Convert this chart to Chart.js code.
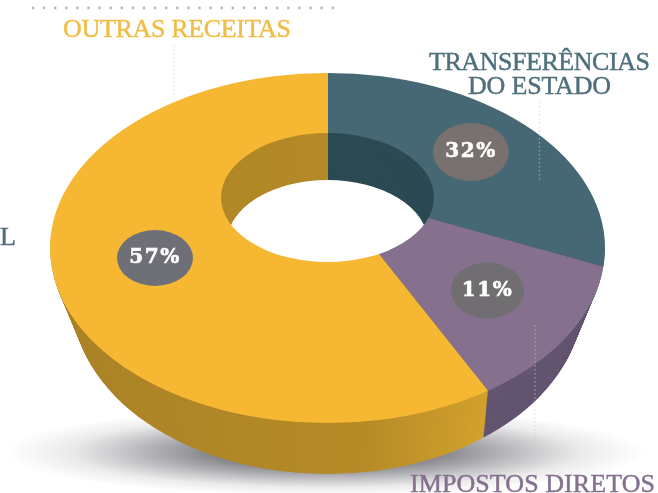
<!DOCTYPE html>
<html lang="pt">
<head>
<meta charset="utf-8">
<style>html,body{margin:0;padding:0;background:#fff}canvas{display:block}</style>
<script src="https://cdn.jsdelivr.net/npm/chart.js@4"></script>
</head>
<body>
<canvas id="c" width="658" height="493"></canvas>
<script>
const categories = ['Transferências do Estado', 'Impostos diretos', 'Outras receitas'];
const shares = [32, 11, 57];
const topColors = ['#466875', '#85708E', '#F6B833'];
const wallColors = ['#2C4A53', '#635570', null];
const yellowWallStops = ['#AA8226', '#B68B27', '#D4A22C'];

// Perspective of the tilted ring: state at the top face (0) and bottom face (1)
const outerEllipse = {rx: [277.5, 255], ry: [175, 174], cy: [248, 300]};
const holeEllipse  = {rx: [106.5, 100.5], ry: [64.5, 62.5], cy: [197.5, 242.5]};
const wedgeApex = {x: 328, y: [190, 237], sx: [1, 0.944], sy: [0.59, 0.572]};
const centerX = 327.5;
const depthSteps = 52;

const lerp = (p, t) => p[0] + (p[1] - p[0]) * t;
function ringClip(ctx, t) {
  const path = new Path2D();
  path.ellipse(centerX, lerp(outerEllipse.cy, t), lerp(outerEllipse.rx, t), lerp(outerEllipse.ry, t), 0, 0, Math.PI * 2);
  path.ellipse(centerX, lerp(holeEllipse.cy, t), lerp(holeEllipse.rx, t), lerp(holeEllipse.ry, t), 0, 0, Math.PI * 2);
  ctx.clip(path, 'evenodd');
}
function wedgeTransform(ctx, t, arc) {
  ctx.translate(wedgeApex.x, lerp(wedgeApex.y, t));
  ctx.scale(lerp(wedgeApex.sx, t), lerp(wedgeApex.sy, t));
  ctx.translate(-arc.x, -arc.y);
}

const badges = [
  {cx: 471, cy: 152, rx: 38, ry: 29, fill: '#78716F'},
  {cx: 487.5, cy: 290.5, rx: 36.5, ry: 28, fill: '#706E70'},
  {cx: 155, cy: 258, rx: 38, ry: 28, fill: '#6F6F78'}
];
const labels = [
  {text: 'OUTRAS RECEITAS', x: 63, w: 228, base: 37, color: '#F1BC45'},
  {text: 'TRANSFERÊNCIAS', x: 429, w: 221, base: 70, color: '#4F6F7C'},
  {text: 'DO ESTADO', x: 468, w: 143, base: 94, color: '#4F6F7C'},
  {text: 'IMPOSTOS DIRETOS', x: 410, w: 245, base: 492, color: '#85708E'},
  {text: 'L', x: 0, w: 13, base: 245, color: '#4F6F7C'}
];
const leaders = [[174, 45, 98], [539.5, 102, 182], [535, 325, 440]];

const ringPlugin = {
  id: 'ring',
  beforeDatasetsDraw(chart) {
    const ctx = chart.ctx;
    ctx.save();
    ctx.translate(325, 452);
    ctx.scale(1, 44 / 320);
    const g = ctx.createRadialGradient(0, 0, 0, 0, 0, 320);
    g.addColorStop(0, 'rgba(55,55,65,0.8)');
    g.addColorStop(0.35, 'rgba(55,55,65,0.62)');
    g.addColorStop(0.6, 'rgba(55,55,65,0.32)');
    g.addColorStop(0.8, 'rgba(55,55,65,0.1)');
    g.addColorStop(1, 'rgba(55,55,65,0)');
    ctx.fillStyle = g;
    ctx.beginPath();
    ctx.arc(0, 0, 320, 0, Math.PI * 2);
    ctx.fill();
    ctx.restore();
  },
  beforeDatasetDraw(chart) {
    const ctx = chart.ctx;
    const arcs = chart.getDatasetMeta(0).data;
    const cx = arcs[0].x;
    const yg = ctx.createLinearGradient(cx - 270, 0, cx + 170, 0);
    yg.addColorStop(0, yellowWallStops[0]);
    yg.addColorStop(0.7, yellowWallStops[1]);
    yg.addColorStop(1, yellowWallStops[2]);
    for (let i = depthSteps; i >= 1; i--) {
      const t = i / depthSteps;
      ctx.save();
      ringClip(ctx, t);
      wedgeTransform(ctx, t, arcs[0]);
      arcs.forEach((arc, k) => {
        const base = arc.options;
        arc.options = Object.create(base, {backgroundColor: {value: wallColors[k] || yg}});
        arc.draw(ctx);
        arc.options = base;
      });
      ctx.restore();
    }
    ctx.save();
    ringClip(ctx, 0);
    wedgeTransform(ctx, 0, arcs[0]);
  },
  afterDatasetDraw(chart) {
    chart.ctx.restore();
  },
  afterDraw(chart) {
    const ctx = chart.ctx;
    // dotted rule and leader lines
    ctx.save();
    ctx.fillStyle = '#B9B9B9';
    for (let x = 33; x <= 338; x += 11.1) {
      ctx.beginPath();
      ctx.arc(x, 8, 1.4, 0, Math.PI * 2);
      ctx.fill();
    }
    ctx.strokeStyle = 'rgba(205,205,205,0.6)';
    ctx.lineWidth = 1.2;
    ctx.setLineDash([1.5, 2.5]);
    leaders.forEach(([x, y0, y1]) => {
      ctx.beginPath();
      ctx.moveTo(x, y0);
      ctx.lineTo(x, y1);
      ctx.stroke();
    });
    ctx.restore();
    // percentage badges
    ctx.save();
    badges.forEach((b, i) => {
      ctx.fillStyle = b.fill;
      ctx.beginPath();
      ctx.ellipse(b.cx, b.cy, b.rx, b.ry, 0, 0, Math.PI * 2);
      ctx.fill();
      ctx.fillStyle = '#FFFFFF';
      ctx.strokeStyle = '#FFFFFF';
      ctx.lineWidth = 0.6;
      ctx.font = 'bold 20px "DejaVu Serif"';
      ctx.letterSpacing = '1.5px';
      ctx.textAlign = 'center';
      ctx.textBaseline = 'middle';
      ctx.fillText(shares[i] + '%', b.cx, b.cy);
      ctx.strokeText(shares[i] + '%', b.cx, b.cy);
    });
    ctx.restore();
    // outer labels
    ctx.save();
    ctx.font = '26px "Liberation Serif"';
    ctx.textAlign = 'left';
    ctx.textBaseline = 'alphabetic';
    ctx.lineWidth = 0.45;
    labels.forEach(l => {
      ctx.letterSpacing = '0px';
      const w = ctx.measureText(l.text).width;
      ctx.letterSpacing = (l.text.length > 1 ? (l.w - w) / (l.text.length - 1) : 0) + 'px';
      ctx.fillStyle = l.color;
      ctx.strokeStyle = l.color;
      ctx.fillText(l.text, l.x, l.base);
      ctx.strokeText(l.text, l.x, l.base);
    });
    ctx.restore();
  }
};

new Chart(document.getElementById('c'), {
  type: 'doughnut',
  data: {
    labels: categories,
    datasets: [{
      data: shares,
      backgroundColor: topColors,
      borderWidth: 0,
      clip: false
    }]
  },
  options: {
    responsive: false,
    animation: false,
    radius: 560,
    cutout: 0,
    rotation: 0,
    plugins: {legend: {display: false}, tooltip: {enabled: false}, title: {display: false}}
  },
  plugins: [ringPlugin]
});
</script>
</body>
</html>
